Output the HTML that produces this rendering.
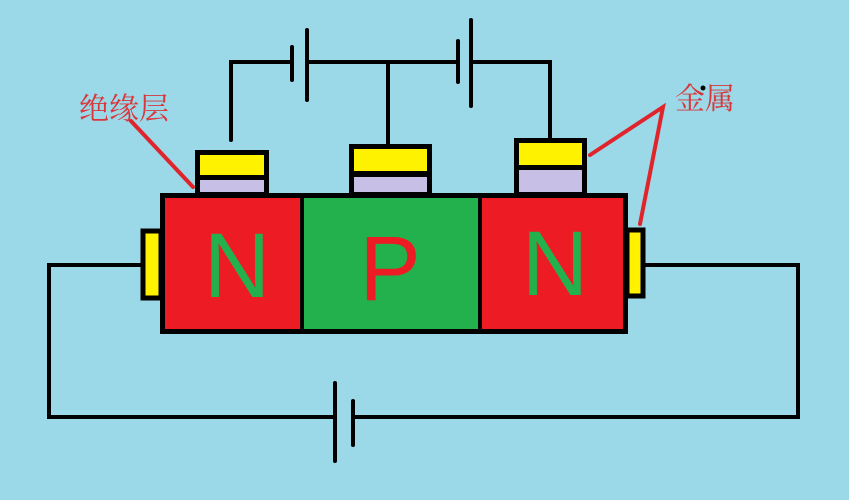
<!DOCTYPE html>
<html><head><meta charset="utf-8"><style>
html,body{margin:0;padding:0;background:#9bd8e8;}
svg{display:block}
</style></head><body>
<svg width="849" height="500" viewBox="0 0 849 500" xmlns="http://www.w3.org/2000/svg">
<rect width="849" height="500" fill="#9bd8e8"/>
<g stroke="#000" stroke-width="4" fill="none" stroke-linecap="round">
<polyline points="231,140 231,62 292,62"/>
<line x1="307" y1="62" x2="458" y2="62"/>
<polyline points="471,62 550,62 550,140"/>
<line x1="388" y1="62" x2="388" y2="146"/>
<line x1="292" y1="47" x2="292" y2="80"/>
<line x1="307" y1="30" x2="307" y2="100"/>
<line x1="458" y1="41" x2="458" y2="82"/>
<line x1="471" y1="20" x2="471" y2="106"/>
<polyline points="141,265 49,265 49,417 335,417"/>
<polyline points="645,265 798,265 798,417 353,417"/>
<line x1="335" y1="383" x2="335" y2="461"/>
<line x1="353" y1="401" x2="353" y2="445"/>
</g>
<!-- gates -->
<rect x="197.5" y="152.5" width="69" height="42" fill="#c8bfe7" stroke="#000" stroke-width="5"/>
<rect x="200" y="155" width="64" height="20" fill="#fff200"/>
<rect x="200" y="175" width="64" height="5" fill="#000"/>
<rect x="351.5" y="146.5" width="78" height="48" fill="#c8bfe7" stroke="#000" stroke-width="5"/>
<rect x="354" y="149" width="73" height="22" fill="#fff200"/>
<rect x="354" y="171" width="73" height="6" fill="#000"/>
<rect x="516.5" y="140.5" width="68" height="54" fill="#c8bfe7" stroke="#000" stroke-width="5"/>
<rect x="519" y="143" width="63" height="22" fill="#fff200"/>
<rect x="519" y="165" width="63" height="5" fill="#000"/>
<!-- side contacts -->
<rect x="143" y="231" width="18" height="67" fill="#fff200" stroke="#000" stroke-width="5"/>
<rect x="627" y="230" width="16" height="66" fill="#fff200" stroke="#000" stroke-width="5"/>
<!-- main block -->
<rect x="162.5" y="195.5" width="140" height="136" fill="#ed1c24"/>
<rect x="302" y="195.5" width="178" height="136" fill="#22b14c"/>
<rect x="480" y="195.5" width="146" height="136" fill="#ed1c24"/>
<rect x="162.5" y="195.5" width="463" height="136" fill="none" stroke="#000" stroke-width="5"/>
<line x1="302" y1="195" x2="302" y2="332" stroke="#000" stroke-width="4"/>
<line x1="480" y1="195" x2="480" y2="334" stroke="#000" stroke-width="4"/>
<g font-family="Liberation Sans, sans-serif" font-size="92" text-anchor="middle">
<text x="237" y="297" fill="#22b14c">N</text>
<text x="390" y="300" fill="#ed1c24">P</text>
<text x="555" y="295" fill="#22b14c">N</text>
</g>
<!-- labels -->
<g stroke="#e0242c" stroke-width="4" stroke-linecap="round" fill="none">
<line x1="131" y1="121" x2="193" y2="187"/>
<polyline points="590,155 663,107 640,224"/>
</g>
<g font-family="'Liberation Serif','Noto Serif CJK SC',serif" font-size="30" fill="#d8383c">
<text x="79" y="119">绝缘层</text>
<text x="675" y="109">金属</text>
</g>
<circle cx="703" cy="88" r="2.5" fill="#000"/>
</svg>
</body></html>
